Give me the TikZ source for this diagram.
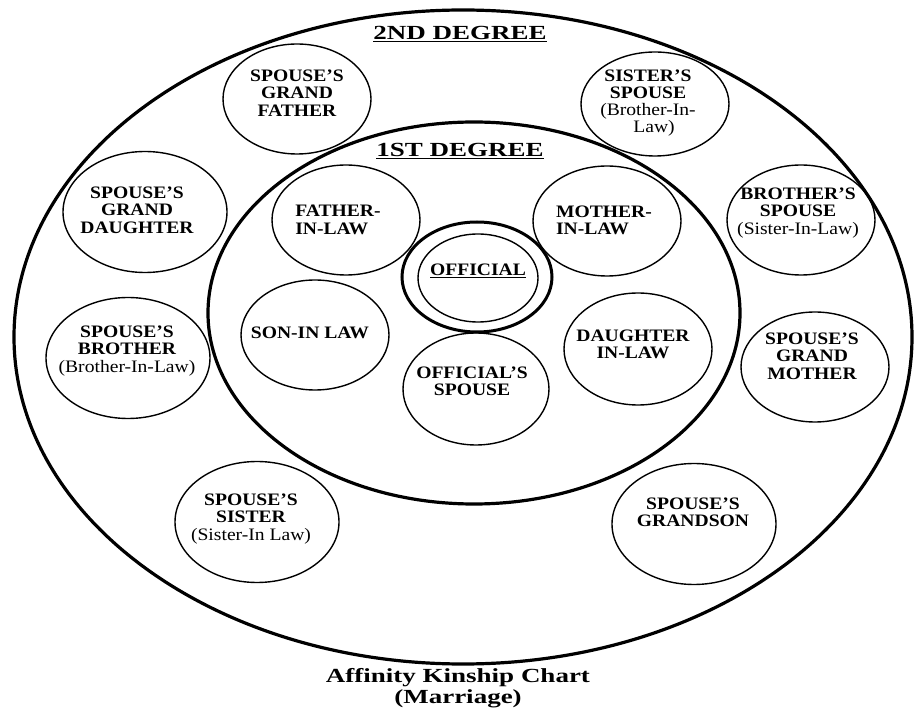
\documentclass[tikz,border=0pt]{standalone}
\usepackage{fontspec}
\setmainfont{Liberation Serif}[FakeStretch=1.12]
\newfontfamily\titlefont{Liberation Serif}[FakeStretch=1.35]
\usetikzlibrary{shapes.geometric}
\begin{document}
\begin{tikzpicture}[x=1pt,y=-1pt,
  big/.style={draw, ellipse, line width=3.2pt, inner sep=0pt},
  ell/.style={draw, ellipse, line width=1.4pt, inner sep=0pt, minimum width=148pt, minimum height=110pt},
  wide/.style={ell, minimum width=164pt, minimum height=121pt},
  lbl/.style={font=\fontsize{17.5}{17.3}\selectfont\bfseries, align=center, inner sep=0pt},
  ttl/.style={font=\titlefont\fontsize{20}{22}\selectfont\bfseries, inner sep=0pt}
]
\useasboundingbox (0,0) rectangle (914,708);

% degree rings
\node[big, minimum width=898pt, minimum height=654pt] (deg2) at (463,337) {};
\node[big, minimum width=532pt, minimum height=382pt] (deg1) at (474,313) {};
\node[ttl, anchor=base] (t2) at (460,40) {\underline{2ND DEGREE}};
\node[ttl, anchor=base] (t1) at (460,157) {\underline{1ST DEGREE}};

% official
\node[big, line width=3pt, minimum width=150pt, minimum height=110pt] (offo) at (477,277) {};
\node[draw, ellipse, line width=1.4pt, inner sep=0pt, minimum width=120pt, minimum height=88pt] (off) at (478,278) {};
\node[lbl, anchor=base] (offt) at (478,276) {\underline{OFFICIAL}};

% 1st degree relatives
\node[ell] (fil) at (346,220) {};
\node[lbl, align=left] (filt) at (338,220) {FATHER-\\IN-LAW};
\node[ell] (mil) at (607,221) {};
\node[lbl, align=left] (milt) at (604,220) {MOTHER-\\IN-LAW};
\node[ell] (sil) at (315,335) {};
\node[lbl, anchor=base] (silt) at (310,339) {SON-IN LAW};
\node[ell, minimum width=146pt, minimum height=112pt] (os) at (476,389) {};
\node[lbl] (ost) at (472,381) {OFFICIAL'S\\SPOUSE};
\node[ell, minimum height=112pt] (dil) at (638,349) {};
\node[lbl] (dilt) at (633,344) {DAUGHTER\\IN-LAW};

% 2nd degree relatives
\node[ell] (gf) at (297,99) {};
\node[lbl] (gft) at (297,93) {SPOUSE'S\\GRAND\\FATHER};
\node[ell, minimum height=104pt] (ss) at (655,104) {};
\node[lbl] (sst) at (648,103) {SISTER'S\\SPOUSE\\{\mdseries(Brother-In-}\\{\mdseries\hspace{12pt}Law)}};
\node[wide] (gd) at (145,212) {};
\node[lbl] (gdt) at (137,210) {SPOUSE'S\\GRAND\\DAUGHTER};
\node[ell] (bs) at (801,220) {};
\node[lbl] (bst) at (798,213) {BROTHER'S\\SPOUSE\\{\mdseries(Sister-In-Law)}};
\node[wide] (sb) at (128,358) {};
\node[lbl] (sbt) at (127,351) {SPOUSE'S\\BROTHER\\{\mdseries(Brother-In-Law)}};
\node[ell] (sgm) at (815,367) {};
\node[lbl] (sgmt) at (812,356) {SPOUSE'S\\GRAND\\MOTHER};
\node[wide] (ssi) at (257,522) {};
\node[lbl] (ssit) at (251,519) {SPOUSE'S\\SISTER\\{\mdseries(Sister-In Law)}};
\node[wide] (gs) at (694,524) {};
\node[lbl] (gst) at (693,512) {SPOUSE'S\\GRANDSON};

% caption
\node[ttl, anchor=base] (cap1) at (458,682) {Affinity Kinship Chart};
\node[ttl, anchor=base] (cap2) at (458,703) {(Marriage)};
\end{tikzpicture}
\end{document}
